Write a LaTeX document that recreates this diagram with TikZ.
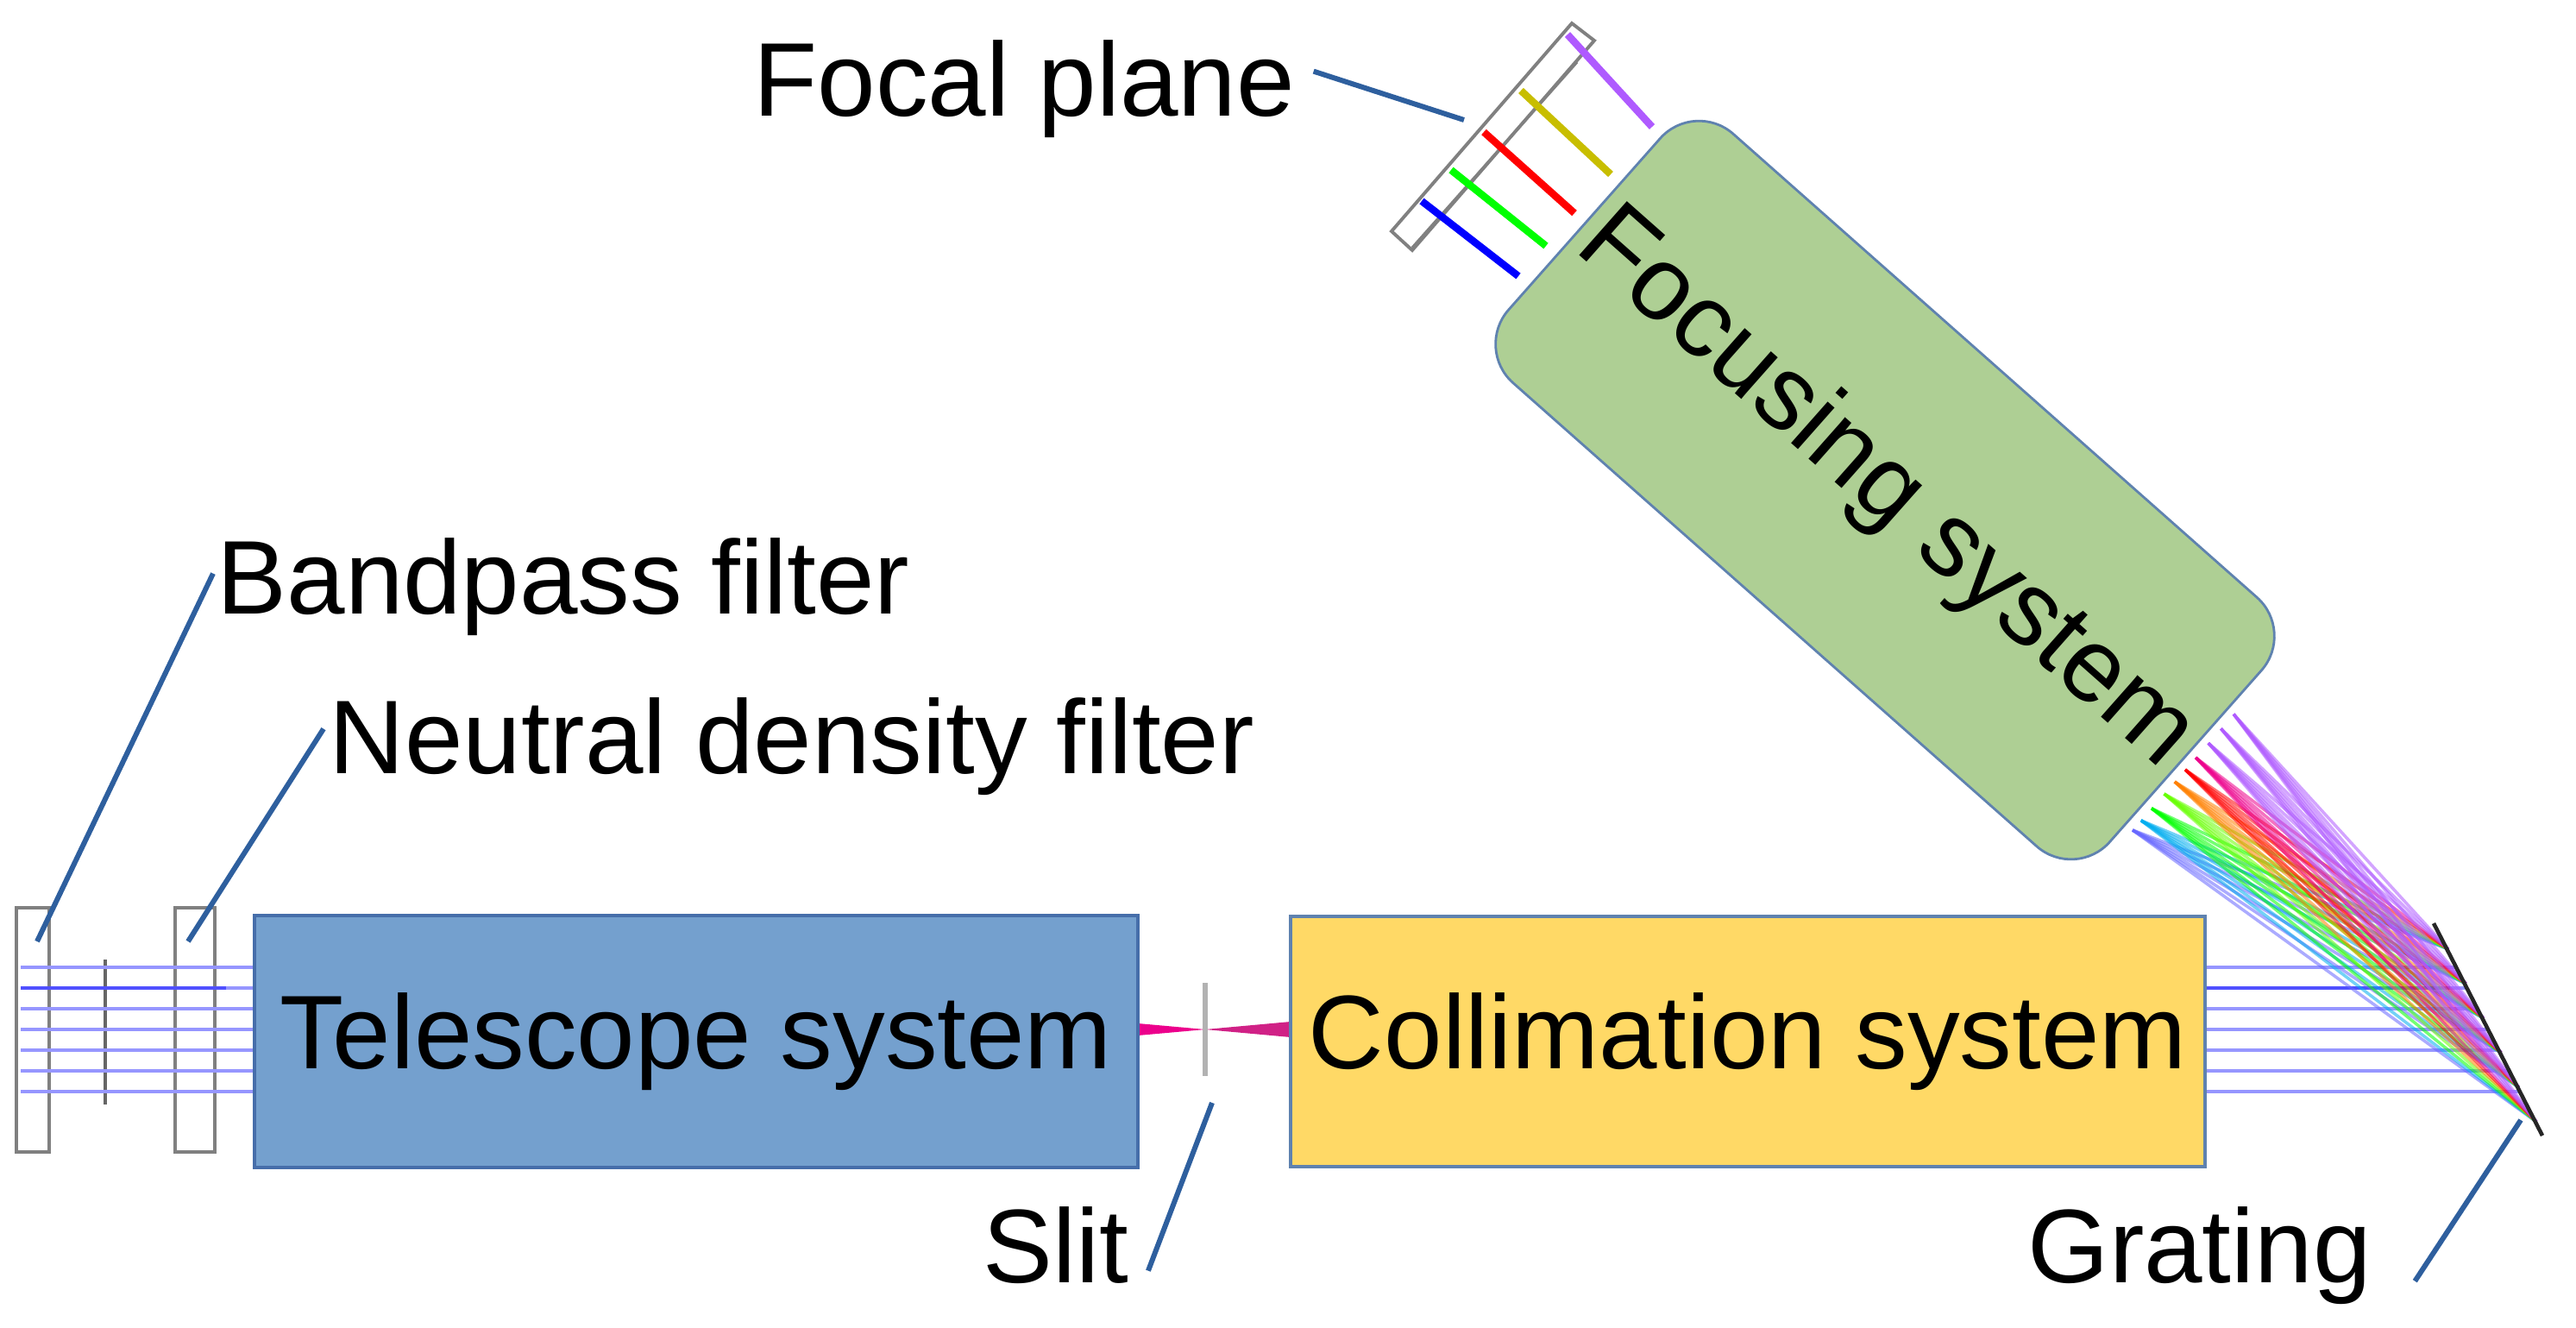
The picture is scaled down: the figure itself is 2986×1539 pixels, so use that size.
\documentclass[tikz,border=0pt]{standalone}
\usepackage{fontspec}
\setmainfont{Liberation Sans}
\usepackage{tikz}
\usetikzlibrary{positioning, calc}

\definecolor{TeleBlue}{RGB}{116,160,206}
\definecolor{TeleEdge}{RGB}{70,110,170}
\definecolor{CollYellow}{RGB}{255,217,102}
\definecolor{FocusGreen}{RGB}{174,207,148}
\definecolor{BoxEdge}{RGB}{95,130,175}
\definecolor{LeaderBlue}{RGB}{46,95,158}
\definecolor{RayBlue}{RGB}{150,150,255}
\definecolor{RayDark}{RGB}{80,80,255}
\definecolor{SpecViolet}{RGB}{175,90,255}
\definecolor{SpecYellow}{RGB}{200,190,0}

\begin{document}
\begin{tikzpicture}[x=0.01cm, y=-0.01cm,
				SysBox/.style={rectangle, draw=BoxEdge, line width=1.2pt, inner sep=0pt, font=\fontsize{34.5}{40}\selectfont},
				LabelText/.style={inner sep=0pt, font=\fontsize{34.5}{40}\selectfont},
				LeaderLine/.style={draw=LeaderBlue, line width=1.7pt},
				RayLine/.style={draw=RayBlue, line width=1.4pt},
				FilterPlate/.style={draw=gray, line width=1.1pt}]

			\useasboundingbox (0,0) rectangle (2986,1539);

			% Filters
			\draw[FilterPlate] (19,1052) rectangle (57,1335);
			\draw[FilterPlate] (203,1052) rectangle (249,1335);
			\draw[gray!80!black, line width=1.2pt] (122,1112) -- (122,1280);

			% Rays
			\foreach \y in {1121,1145,1169,1193,1217,1241,1265}{
				\draw[RayLine] (24,\y) -- (295,\y);
				\draw[RayLine] (2556,\y) -- ({2821+(\y-1070)*0.5122},\y);
			}
			\draw[RayDark, line width=1.4pt] (24,1145) -- (262,1145);
			\draw[RayDark, line width=1.4pt] (2556,1145) -- (2840,1145);

			% Slit beam
			\fill[magenta] (1319,1186) -- (1397,1193) -- (1319,1200) -- cycle;
			\fill[magenta!70!violet] (1397,1193) -- (1496,1184) -- (1496,1202) -- cycle;
			\draw[gray!60, line width=1.5pt] (1397,1139) -- (1397,1247);

			% Diffracted fan
			\coordinate (EdgeA) at (2472,962);
			\coordinate (EdgeB) at (2594,822);
			\coordinate (GratA) at (2838,1100);
			\coordinate (GratB) at (2940,1300);
			\foreach \c/\s in {blue!60/0, cyan/0.08, green/0.18, green!60!yellow/0.3, orange/0.4, red/0.5, magenta/0.6, SpecViolet/0.72, SpecViolet/0.84, SpecViolet/0.96}{
				\foreach \t in {0,0.2,...,1}{
					\draw[\c, opacity=0.55, line width=1pt] ($(EdgeA)!\s!(EdgeB)$) -- ($(GratA)!\t!(GratB)$);
				}
			}
			\draw[gray!30!black, line width=1.3pt] (2821,1070) -- (2947,1316);

			% Focal plane
			\draw[FilterPlate] (1822,27) -- (1848,47) -- (1637,290) -- (1613,268) -- cycle;
			\draw[gray, line width=0.9pt] (1828,72) -- (1637,287);
			\draw[SpecViolet, line width=2.4pt] (1817,40) -- (1915,147);
			\draw[SpecYellow, line width=2.4pt] (1763,105) -- (1867,202);
			\draw[red, line width=2.4pt] (1720,153) -- (1825,247);
			\draw[green, line width=2.4pt] (1682,197) -- (1792,285);
			\draw[blue, line width=2.4pt] (1648,233) -- (1760,320);

			% Boxes
			\node[SysBox, fill=TeleBlue, draw=TeleEdge, minimum width=10.24cm, minimum height=2.92cm] (TeleBox) at (807,1207) {Telescope system};
			\node[SysBox, fill=CollYellow, minimum width=10.6cm, minimum height=2.9cm] (CollBox) at (2026,1207) {Collimation system};
			\node[SysBox, fill=FocusGreen, line width=0.8pt, rounded corners=0.6cm, rotate=-41.5, minimum width=9.3cm, minimum height=3.85cm] (FocusBox) at (2185,568) {Focusing system};

			% Labels
			\node[LabelText, anchor=base west] (BandLabel) at (251,711) {Bandpass filter};
			\node[LabelText, anchor=base west] (NeutralLabel) at (381,896) {Neutral density filter};
			\node[LabelText, anchor=base west] (FocalLabel) at (873,134) {Focal plane};
			\node[LabelText, anchor=base west] (SlitLabel) at (1139,1486) {Slit};
			\node[LabelText, anchor=base west] (GratLabel) at (2350,1486) {Grating};

			\coordinate (BandTip) at (43,1091);
			\coordinate (NeutralTip) at (218,1091);
			\coordinate (FocalTip) at (1697,139);
			\coordinate (SlitTip) at (1405,1278);
			\coordinate (GratTip) at (2922,1298);

			% Leaders
			\draw[LeaderLine] (BandTip) -- ([xshift=-0.04cm, yshift=0.15cm]BandLabel.west);
			\draw[LeaderLine] (NeutralTip) -- ([xshift=-0.06cm, yshift=0.2cm]NeutralLabel.west);
			\draw[LeaderLine] (FocalTip) -- ([xshift=0.21cm, yshift=0.2cm]FocalLabel.east);
			\draw[LeaderLine] (SlitTip) -- ([xshift=0.22cm, yshift=-0.3cm]SlitLabel.east);
			\draw[LeaderLine] (GratTip) -- ([xshift=0.5cm, yshift=-0.3cm]GratLabel.east);
		\end{tikzpicture}
\end{document}
